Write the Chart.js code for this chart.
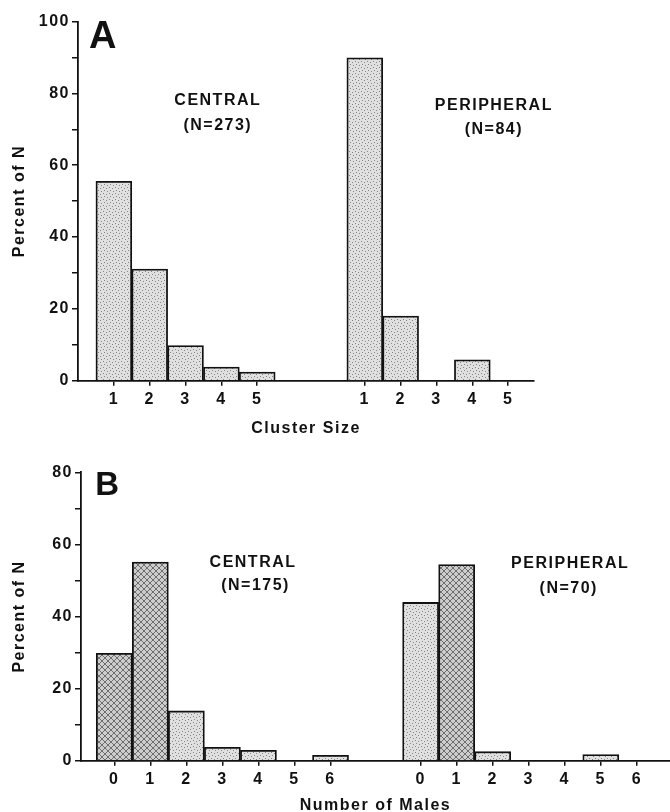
<!DOCTYPE html>
<html>
<head>
<meta charset="utf-8">
<title>Cluster size and number of males</title>
<script src="https://cdn.jsdelivr.net/npm/chart.js@4/dist/chart.umd.min.js"></script>
<style>
  html, body { margin: 0; padding: 0; background: #fff; overflow: hidden; }
  #wrap { position: relative; width: 670px; height: 812px; }
  canvas { position: absolute; left: 0; }
  #chartA { top: 0; }
  #chartB { top: 445px; }
</style>
</head>
<body>
<div id="wrap">
  <canvas id="chartA" width="670" height="445"></canvas>
  <canvas id="chartB" width="670" height="380"></canvas>
</div>
<script>
// =======================================================
// DATA (percent of N)
// =======================================================
const sizeLabels = ["1", "2", "3", "4", "5"];
const sizeCentral = [55.5, 31.1, 9.8, 3.8, 2.4];
const sizePeripheral = [89.9, 18.0, 0, 5.8, 0];

const maleLabels = ["0", "1", "2", "3", "4", "5", "6"];
const maleCentral = [29.8, 55.1, 13.8, 3.7, 2.9, 0, 1.5];
const malePeripheral = [43.9, 54.4, 2.5, 0, 0, 1.7, 0];

const yLabelsA = [0, 20, 40, 60, 80, 100];
const yLabelsB = [0, 20, 40, 60, 80];

// group captions, placed in axis units
const notesA = [
    { text: "A", x: -0.31, y: 95.5, size: 38 },
    { text: "CENTRAL", x: 2.9, y: 78.1 },
    { text: "(N=273)", x: 2.9, y: 71.0 },
    { text: "PERIPHERAL", x: 10.6, y: 76.6 },
    { text: "(N=84)", x: 10.6, y: 69.9 }
];
const notesB = [
    { text: "B", x: -0.2, y: 76.2, size: 33 },
    { text: "CENTRAL", x: 3.85, y: 55.0 },
    { text: "(N=175)", x: 3.92, y: 48.6 },
    { text: "PERIPHERAL", x: 12.65, y: 54.6 },
    { text: "(N=70)", x: 12.61, y: 47.8 }
];


// =======================================================
// LOOK
// =======================================================
const INK = "#111";
const SPACING = "1.5px";
Chart.defaults.font.family = '"Liberation Sans", Arial, sans-serif';
Chart.defaults.font.size = 16;
Chart.defaults.font.weight = "bold";
Chart.defaults.color = INK;

// small repeating tiles for the printed screen tones
function tone(ctx, kind) {
    const c = document.createElement("canvas");
    c.width = c.height = 6;
    const g = c.getContext("2d");
    g.fillStyle = kind === "hatch" ? "#cdcdcd" : "#e0e0e0";
    g.fillRect(0, 0, 6, 6);
    g.fillStyle = kind === "hatch" ? "#6e6e6e" : "#858585";
    if (kind === "hatch") {
        for (let i = 0; i < 6; i++) {
            g.fillRect(i, i, 1, 1);
            g.fillRect(5 - i, i, 1, 1);
        }
    } else {
        g.fillRect(1, 1, 1, 1);
        g.fillRect(4, 2, 1, 1);
        g.fillRect(2, 4, 1, 1);
        g.fillRect(5, 5, 1, 1);
    }
    return ctx.createPattern(c, "repeat");
}

function notesPlugin(notes) {
    return {
        id: "notes",
        beforeLayout(chart) { chart.ctx.letterSpacing = SPACING; },
        beforeDraw(chart) { chart.ctx.letterSpacing = SPACING; },
        afterDraw(chart) {
            const { ctx, scales: { x, y } } = chart;
            ctx.save();
            ctx.fillStyle = INK;
            ctx.textAlign = "center";
            ctx.textBaseline = "middle";
            notes.forEach(n => {
                ctx.font = `bold ${n.size || 16}px "Liberation Sans", Arial, sans-serif`;
                ctx.letterSpacing = n.size ? "0px" : SPACING;
                ctx.fillText(n.text, x.getPixelForValue(n.x), y.getPixelForValue(n.y));
            });
            ctx.restore();
        }
    };
}


// =======================================================
// PANEL BUILDER
// =======================================================
function makePanel(id, cfg) {
    const canvas = document.getElementById(id);
    const ctx = canvas.getContext("2d");
    const dots = tone(ctx, "dots");
    const hatch = tone(ctx, "hatch");

    const central = cfg.central.map((v, i) => ({ x: i, y: v }));
    const peripheral = cfg.peripheral.map((v, i) => ({ x: i + cfg.gap, y: v }));

    const tickText = new Map();
    cfg.labels.forEach((l, i) => {
        tickText.set(i, l);
        tickText.set(i + cfg.gap, l);
    });

    const barStyle = (list) => ({
        backgroundColor: c => (list.includes(c.dataIndex) ? hatch : dots),
        borderColor: INK,
        borderWidth: 1.8,
        barPercentage: 1,
        categoryPercentage: 1,
        grouped: false
    });

    new Chart(canvas, {
        type: "bar",
        data: {
            datasets: [
                { label: "Central", data: central, ...barStyle(cfg.hatchCentral) },
                { label: "Peripheral", data: peripheral, ...barStyle(cfg.hatchPeripheral) }
            ]
        },
        options: {
            responsive: false,
            animation: false,
            layout: { padding: cfg.padding },
            plugins: { legend: { display: false }, tooltip: { enabled: false } },
            scales: {
                x: {
                    type: "linear",
                    min: cfg.xMin,
                    max: cfg.xMax,
                    offset: false,
                    afterBuildTicks: s => { s.ticks = [...tickText.keys()].map(v => ({ value: v })); },
                    afterFit: s => { s.height = cfg.bottomH; },
                    ticks: { autoSkip: false, maxRotation: 0, padding: 4, callback: v => tickText.get(v) ?? "" },
                    grid: { offset: false, drawOnChartArea: false, tickLength: 5, color: INK, lineWidth: 1.5 },
                    border: { color: INK, width: 1.8 },
                    title: { display: true, text: cfg.xTitle, padding: { top: 0, bottom: cfg.titlePad } }
                },
                y: {
                    min: 0,
                    max: cfg.yMax,
                    afterFit: s => { s.width = cfg.left; },
                    ticks: {
                        stepSize: 10,
                        autoSkip: false,
                        padding: 2,
                        callback: v => (cfg.yLabels.includes(v) ? String(v) : "")
                    },
                    grid: { drawOnChartArea: false, tickLength: 6, color: INK, lineWidth: 1.5 },
                    border: { color: INK, width: 1.8 },
                    title: { display: true, text: "Percent of N", padding: { top: 10, bottom: 0 } }
                }
            }
        },
        plugins: [notesPlugin(cfg.notes)]
    });
}


// =======================================================
// DRAW BOTH PANELS
// =======================================================
makePanel("chartA", {
    labels: sizeLabels,
    central: sizeCentral,
    peripheral: sizePeripheral,
    gap: 7,
    hatchCentral: [],
    hatchPeripheral: [],
    yLabels: yLabelsA,
    yMax: 100,
    xMin: -1,
    xMax: 11.72,
    left: 78,
    bottomH: 64.3,
    titlePad: 7,
    padding: { top: 21.5, right: 136, bottom: 0, left: 0 },
    xTitle: "Cluster Size",
    notes: notesA
});

makePanel("chartB", {
    labels: maleLabels,
    central: maleCentral,
    peripheral: malePeripheral,
    gap: 8.5,
    hatchCentral: [0, 1],
    hatchPeripheral: [1],
    yLabels: yLabelsB,
    yMax: 80,
    xMin: -0.924,
    xMax: 15.42,
    left: 81,
    bottomH: 64.3,
    titlePad: 9.5,
    padding: { top: 27.3, right: 0, bottom: 0, left: 0 },
    xTitle: "Number of Males",
    notes: notesB
});
</script>
</body>
</html>
